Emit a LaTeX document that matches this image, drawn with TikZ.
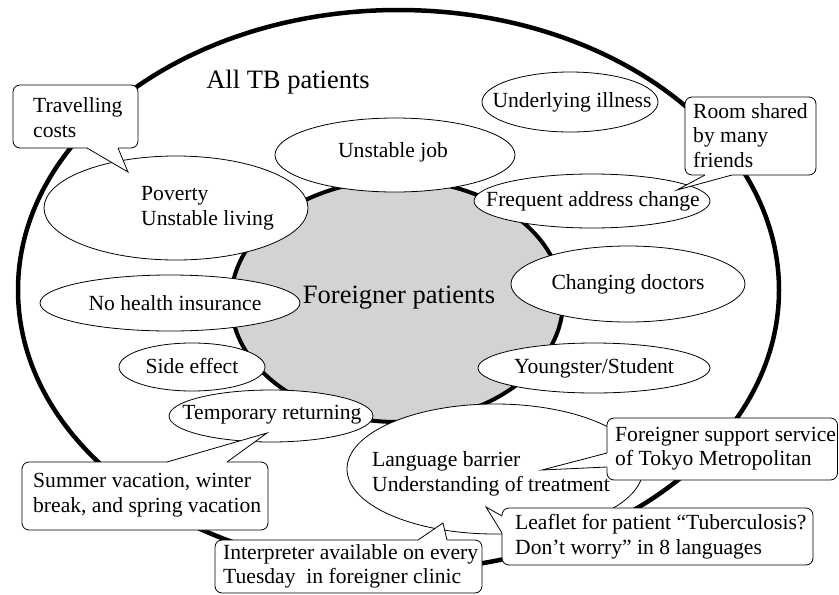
\documentclass[tikz,border=0pt]{standalone}
\usepackage{fontspec}
\setmainfont{Liberation Serif}
\definecolor{fgray}{RGB}{209,211,212}
\begin{document}
\begin{tikzpicture}[x=1pt,y=-1pt,
  lab/.style={font=\fontsize{21.6}{24.5}\selectfont, inner sep=0pt, align=left},
  big/.style={font=\fontsize{26.5}{30}\selectfont, inner sep=0pt},
  ov/.style={draw, fill=white, line width=0.8pt},
  co/.style={draw, fill=white, line width=0.8pt, rounded corners=7pt},
  pl/.style={line width=0.8pt, line join=miter}]
\useasboundingbox (0,0) rectangle (839,595);
% outer and inner sets
\draw[line width=4.5pt] (398.5,290) ellipse [x radius=380.5pt, y radius=280pt];
\draw[line width=4pt, fill=fgray] (397,301) ellipse [x radius=166pt, y radius=121pt];
% factor ellipses
\path[ov] (176,208) ellipse [x radius=132pt, y radius=52pt];
\path[ov] (395,155) ellipse [x radius=120pt, y radius=37pt];
\path[ov] (570,102) ellipse [x radius=88pt, y radius=30pt];
\path[ov] (592,201) ellipse [x radius=118pt, y radius=27pt];
\path[ov] (628,284) ellipse [x radius=117pt, y radius=38pt];
\path[ov] (594,368) ellipse [x radius=116pt, y radius=25pt];
\path[ov] (170,303) ellipse [x radius=130pt, y radius=28pt];
\path[ov] (192,367) ellipse [x radius=73pt, y radius=24pt];
\path[ov] (271,416) ellipse [x radius=102pt, y radius=26pt];
\path[ov] (495,469) ellipse [x radius=148pt, y radius=65pt];
% texts
\node[big] (all) at (288,82) {All TB patients};
\node[big] (fp) at (399,298) {Foreigner patients};
\node[lab, anchor=west] (pov) at (141,208.5) {Poverty\\Unstable living};
\node[lab] (job) at (393,152) {Unstable job};
\node[lab] (ill) at (572,102) {Underlying illness};
\node[lab] (addr) at (593,201) {Frequent address change};
\node[lab] (doc) at (628,284) {Changing doctors};
\node[lab] (stu) at (594,368) {Youngster/Student};
\node[lab] (ins) at (175,303) {No health insurance};
\node[lab] (side) at (192,366) {Side effect};
\node[lab] (ret) at (272,415) {Temporary returning};
\node[lab, anchor=west] (lang) at (372,474) {Language barrier\\Understanding of treatment};
% callout 1: travelling costs
\path[co] (13,85) rectangle (138,148);
\fill[white] (87,146) -- (87,148) -- (128,172) -- (118,148) -- (118,146) -- cycle;
\draw[pl] (87,148) -- (128,172) -- (118,148);
\node[lab, anchor=west] (trav) at (33,117.5) {Travelling\\costs};
% callout 2: room shared
\path[co] (685,97) rectangle (816,175);
\fill[white] (705,173) -- (705,175) -- (677,190) -- (732,175) -- (732,173) -- cycle;
\draw[pl] (705,175) -- (677,190) -- (732,175);
\node[lab, anchor=west] (room) at (693,135.5) {Room shared\\by many\\friends};
% callout 3: summer vacation
\path[co] (22,462) rectangle (268,530);
\fill[white] (167,464) -- (167,462) -- (267,433) -- (227,462) -- (227,464) -- cycle;
\draw[pl] (167,462) -- (267,433) -- (227,462);
\node[lab, anchor=west] (sum) at (33,495) {Summer vacation, winter\\break, and spring vacation};
% callout 4: interpreter
\path[co] (215,540) rectangle (482,593);
\fill[white] (418,542) -- (418,540) -- (443,523) -- (447,540) -- (447,542) -- cycle;
\draw[pl] (418,540) -- (443,523) -- (447,540);
\node[lab, anchor=west] (int) at (223,566.5) {Interpreter available on every\\Tuesday~ in foreigner clinic};
% callout 5: foreigner support service
\path[co] (607,418) rectangle (837.5,480);
\fill[white] (609,453) -- (607,453) -- (542,470) -- (607,467) -- (609,467) -- cycle;
\draw[pl] (607,453) -- (542,470) -- (607,467);
\node[lab, anchor=west] (sup) at (615,448.5) {Foreigner support service\\of Tokyo Metropolitan};
% callout 6: leaflet
\path[co] (502,508) rectangle (813,565);
\fill[white] (504,516) -- (502,516) -- (486,507) -- (502,533) -- (504,533) -- cycle;
\draw[pl] (502,516) -- (486,507) -- (502,533);
\node[lab, anchor=west] (leaf) at (515,536.5) {Leaflet for patient “Tuberculosis?\\Don’t worry” in 8 languages};
\end{tikzpicture}
\end{document}
